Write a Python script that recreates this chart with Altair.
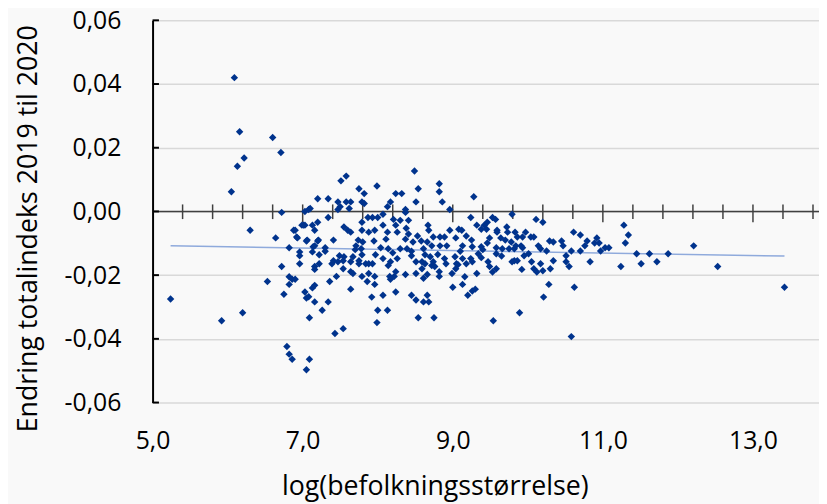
import altair as alt
import pandas as pd

# Scatter data: log(population) vs change in total index 2019 -> 2020
xs = [
    5.24, 5.92, 6.05, 6.09, 6.13, 6.16, 6.20, 6.22, 6.30, 6.53, 6.60, 6.64, 6.71, 6.72, 6.72,
    6.75, 6.79, 6.82, 6.86, 6.82, 6.86, 6.90, 6.82, 6.82, 6.88, 6.90, 6.92, 6.93, 6.96, 6.96,
    6.96, 6.99,
    7.01, 7.03, 7.03, 7.08, 7.10, 7.03, 7.05, 7.05, 7.05, 7.06, 7.08, 7.09, 7.09, 7.13, 7.13,
    7.13, 7.14, 7.16, 7.16, 7.16, 7.16, 7.16, 7.16, 7.20, 7.20, 7.20, 7.21, 7.22, 7.22, 7.26,
    7.30, 7.34, 7.34, 7.34, 7.36, 7.39, 7.41, 7.41, 7.43, 7.45, 7.47, 7.47, 7.47, 7.49, 7.50,
    7.51, 7.54, 7.54, 7.55, 7.55, 7.58, 7.58, 7.60, 7.62, 7.64, 7.64, 7.64, 7.64, 7.64, 7.67,
    7.67, 7.71, 7.74, 7.75, 7.75, 7.78, 7.79, 7.79, 7.79, 7.79, 7.79, 7.80, 7.82, 7.82, 7.84,
    7.86, 7.87, 7.88, 7.88, 7.92, 7.93, 7.93, 7.95, 7.96, 7.96, 7.96, 7.97, 7.99, 7.99,
    8.00, 8.00, 8.04, 8.07, 8.07, 8.07, 8.07, 8.11, 8.13, 8.13, 8.13, 8.14, 8.14, 8.16, 8.17,
    8.17, 8.17, 8.21, 8.22, 8.24, 8.24, 8.24, 8.24, 8.26, 8.26, 8.30, 8.30, 8.32, 8.37, 8.37,
    8.37, 8.37, 8.38, 8.39, 8.41, 8.41, 8.45, 8.45, 8.47, 8.49,
    8.51, 8.51, 8.51, 8.53, 8.54, 8.54, 8.59, 8.58, 8.59, 8.61, 8.61, 8.61, 8.63, 8.66, 8.66,
    8.66, 8.67, 8.68, 8.68, 8.70, 8.72, 8.72, 8.74, 8.74, 8.75, 8.76, 8.82, 8.82, 8.82, 8.82,
    8.83, 8.83, 8.86, 8.89, 8.89, 8.92, 8.96, 8.96, 8.99,
    9.00, 9.03, 9.04, 9.04, 9.07, 9.08, 9.12, 9.13, 9.13, 9.13, 9.16, 9.18, 9.18, 9.20, 9.24,
    9.24, 9.25, 9.26, 9.26, 9.26, 9.28, 9.30, 9.32, 9.32, 9.34, 9.38, 9.38, 9.38, 9.42, 9.45,
    9.46, 9.46, 9.47, 9.49, 9.49,
    9.53, 9.53, 9.54, 9.57, 9.58, 9.58, 9.58, 9.59, 9.59, 9.64, 9.66, 9.70, 9.72, 9.73, 9.75,
    9.78, 9.79, 9.79, 9.82, 9.82, 9.83, 9.84, 9.86, 9.86, 9.89, 9.91, 9.92, 9.93, 9.93, 9.95,
    9.97,
    10.01, 10.04, 10.05, 10.08, 10.08, 10.11, 10.12, 10.14, 10.17, 10.17, 10.20, 10.20, 10.21,
    10.25, 10.28, 10.29, 10.30, 10.34, 10.34, 10.45, 10.47,
    10.51, 10.51, 10.55, 10.58, 10.58, 10.61, 10.62, 10.70, 10.70, 10.76, 10.79, 10.83, 10.89,
    10.92, 10.95, 10.97, 11.03, 11.08, 11.24, 11.28, 11.30, 11.34, 11.45, 11.51, 11.62, 11.72,
    11.87, 12.21, 12.53, 13.42,
    7.54, 7.75, 7.88, 8.51, 8.63, 8.91, 9.05, 7.30, 7.70, 8.20, 8.45, 8.80, 9.10, 9.40, 9.65,
]
ys = [
    -0.0275, -0.0343, 0.0062, 0.0420, 0.0142, 0.0250, -0.0318, 0.0168, -0.0059, -0.0220, 0.0232,
    -0.0083, 0.0185, -0.0003, -0.0173,
    -0.0260, -0.0424, -0.0448, -0.0464, -0.0205, -0.0213, -0.0213, -0.0229, -0.0114, -0.0059,
    -0.0059, -0.0080, -0.0083, -0.0127, -0.0139,
    -0.0164, -0.0043,
    -0.0043, -0.0043, 0.0000, 0.0006, 0.0009, -0.0253, -0.0093, -0.0272, -0.0497, -0.0090,
    -0.0268, -0.0334, -0.0464, -0.0043, -0.0127,
    -0.0240, -0.0111, -0.0059, -0.0108, -0.0173, -0.0182, -0.0232, -0.0284, 0.0040, -0.0034,
    -0.0093, -0.0090, -0.0136, -0.0164, -0.0310,
    -0.0114, 0.0040, -0.0019, -0.0284, -0.0220, -0.0164, -0.0090, -0.0155, -0.0383, -0.0204,
    0.0030, 0.0006, -0.0158, -0.0139, 0.0015,
    0.0096, -0.0368, -0.0180, -0.0049, -0.0142, 0.0111, 0.0030, -0.0059, 0.0009, 0.0030,
    -0.0065, -0.0158, -0.0189, -0.0244, -0.0142,
    -0.0195, -0.0108, -0.0090, 0.0071, -0.0164, -0.0117, 0.0030, -0.0034, -0.0059, -0.0136,
    -0.0204, -0.0096, 0.0056, 0.0025, -0.0164,
    -0.0220, -0.0019, -0.0065, -0.0195, -0.0269, -0.0019, -0.0164, -0.0093, -0.0059, -0.0204,
    -0.0229, -0.0136, 0.0080, -0.0349,
    -0.0019, -0.0310, -0.0114, -0.0009, -0.0043, -0.0148, -0.0263, -0.0087, 0.0015, -0.0065,
    -0.0310, -0.0117, -0.0170, -0.0204, 0.0030,
    -0.0158, -0.0213, -0.0025, -0.0204, 0.0056, -0.0043, -0.0189, -0.0253, -0.0065, -0.0148,
    -0.0028, -0.0117, 0.0056, 0.0006, -0.0003,
    -0.0087, -0.0198, -0.0053, -0.0117, -0.0028, -0.0071, -0.0139, -0.0263, -0.0096, 0.0127,
    0.0030, -0.0195, -0.0278, -0.0077, 0.0071, -0.0334, -0.0158, -0.0093, -0.0180, -0.0117,
    -0.0210, -0.0284, -0.0136, -0.0096, -0.0198,
    -0.0263, -0.0043, -0.0059, -0.0284, -0.0142, -0.0108, -0.0170, -0.0080, -0.0158, -0.0334,
    -0.0173, 0.0087, 0.0062, -0.0189, -0.0204,
    -0.0080, -0.0108, 0.0030, -0.0080, -0.0148, -0.0108, 0.0006, -0.0059, -0.0195,
    -0.0238, -0.0142, -0.0083, -0.0180, -0.0167, -0.0056, -0.0059, -0.0108, -0.0148, -0.0229,
    -0.0205, -0.0077, -0.0164, -0.0263, -0.0019,
    -0.0148, -0.0090, -0.0111, -0.0158, -0.0250, 0.0046, -0.0244, -0.0043, -0.0195, -0.0133,
    -0.0056, -0.0111, -0.0145, -0.0043, -0.0056,
    -0.0034, -0.0099, -0.0158, -0.0083, -0.0173,
    -0.0019, -0.0190, -0.0343, -0.0025, -0.0114, -0.0133, -0.0180, -0.0059, -0.0065, -0.0083,
    -0.0117, -0.0090, -0.0049, -0.0065, -0.0117,
    -0.0096, -0.0009, -0.0158, -0.0117, -0.0155, -0.0065, -0.0108, -0.0080, -0.0155, -0.0318,
    -0.0108, -0.0182, -0.0080, -0.0114, -0.0139,
    -0.0065,
    -0.0133, -0.0080, -0.0158, -0.0080, -0.0180, -0.0025, -0.0190, -0.0108, -0.0117, -0.0164,
    -0.0034, -0.0186, -0.0269,
    -0.0124, -0.0229, -0.0093, -0.0180, -0.0096, -0.0155, -0.0093, -0.0108,
    -0.0139, -0.0158, -0.0173, -0.0124, -0.0393, -0.0065, -0.0238, -0.0074, -0.0124, -0.0108,
    -0.0093, -0.0158, -0.0099,
    -0.0083, -0.0099, -0.0124, -0.0114, -0.0114, -0.0173, -0.0043, -0.0099, -0.0074, -0.0133,
    -0.0164, -0.0133, -0.0158,
    -0.0133, -0.0108, -0.0173, -0.0238,
    -0.0155, -0.0155, -0.0164, -0.0158, -0.0164, -0.0164, -0.0164, -0.0125, -0.0120, -0.0130,
    -0.0125, -0.0135, -0.0125, -0.0120, -0.0140,
]

# Trend line endpoints
trend_x = [5.24, 13.42]
trend_y = [-0.0108, -0.0140]

# Axis tick values
x_label_values = [5, 7, 9, 11, 13]
y_tick_values = [-0.06, -0.04, -0.02, 0.0, 0.02, 0.04, 0.06]
minor_ticks = [5.4, 5.8, 6.2, 6.6, 7.4, 7.8, 8.2, 8.6, 9.4, 9.8, 10.2, 10.6,
               11.4, 11.8, 12.2, 12.6, 13.4, 13.8]
major_ticks = [7.0, 9.0, 11.0, 13.0]

n = min(len(xs), len(ys))
pts = pd.DataFrame({"x": xs[:n], "y": ys[:n]})
trend = pd.DataFrame({"x": trend_x, "y": trend_y})
zero = pd.DataFrame({"y": [0.0]})
minor = pd.DataFrame({"x": minor_ticks, "y": [0.0022] * len(minor_ticks), "y2": [-0.0024] * len(minor_ticks)})
major = pd.DataFrame({"x": major_ticks, "y": [0.0022] * len(major_ticks), "y2": [-0.0034] * len(major_ticks)})
yt = pd.DataFrame({"x": [5.0] * len(y_tick_values), "x2": [5.085] * len(y_tick_values), "y": y_tick_values})

FONT = "Open Sans"
LABEL_SIZE = 25
TITLE_SIZE = 27
xscale = alt.Scale(domain=[5, 13.88], nice=False, zero=False)
yscale = alt.Scale(domain=[-0.06, 0.06], nice=False, zero=False)

xaxis = alt.Axis(
    values=x_label_values,
    labelExpr="replace(format(datum.value, '.1f'), '.', ',')",
    grid=False, ticks=False, domain=False, labelFlush=False,
    labelFont=FONT, labelFontSize=LABEL_SIZE, labelColor="#000000", labelPadding=26,
    title="log(befolkningsstørrelse)", titleFont=FONT, titleFontSize=TITLE_SIZE,
    titleFontWeight="normal", titleColor="#000000",
    titleX=285, titleY=85, titleAlign="center", titleBaseline="middle",
)
yaxis = alt.Axis(
    values=y_tick_values,
    labelExpr="(datum.value < -0.0001 ? '-' : '') + replace(format(abs(datum.value), '.2f'), '.', ',')",
    grid=True, gridColor="#d9d9d9", gridWidth=1.5,
    ticks=False, domain=True, domainColor="#000000", domainWidth=2,
    labelFont=FONT, labelFontSize=LABEL_SIZE, labelColor="#000000", labelPadding=32,
    title="Endring totalindeks 2019 til 2020", titleFont=FONT, titleFontSize=TITLE_SIZE,
    titleFontWeight="normal", titleColor="#000000",
    titleAngle=270, titleX=-125, titleY=210, titleAlign="center", titleBaseline="middle",
)

X = lambda f="x": alt.X(f"{f}:Q", scale=xscale, axis=xaxis)
Y = lambda f="y": alt.Y(f"{f}:Q", scale=yscale, axis=yaxis)

points = alt.Chart(pts).mark_point(
    shape="diamond", filled=True, size=56, color="#00338d", opacity=1, strokeWidth=0
).encode(x=X(), y=Y())

trend_line = alt.Chart(trend).mark_line(color="#8faadc", strokeWidth=1.5).encode(x=X(), y=Y())

zero_rule = alt.Chart(zero).mark_rule(color="#404040", strokeWidth=1.5).encode(y=Y())

minor_rules = alt.Chart(minor).mark_rule(color="#404040", strokeWidth=1.5).encode(
    x=X(), y=Y(), y2="y2:Q")
major_rules = alt.Chart(major).mark_rule(color="#404040", strokeWidth=1.5).encode(
    x=X(), y=Y(), y2="y2:Q")
ytick_rules = alt.Chart(yt).mark_rule(color="#000000", strokeWidth=2).encode(
    x=X(), x2="x2:Q", y=Y())

chart = alt.layer(
    zero_rule, minor_rules, major_rules, ytick_rules, trend_line, points
).properties(
    width=673, height=386,
    autosize=alt.AutoSizeParams(type="none"),
    padding={"left": 146, "top": 10, "right": 0, "bottom": 100},
    background="#f9f9f9",
).configure_view(stroke=None)

chart.save("out.html", embed_options={"renderer": "svg", "actions": False})
